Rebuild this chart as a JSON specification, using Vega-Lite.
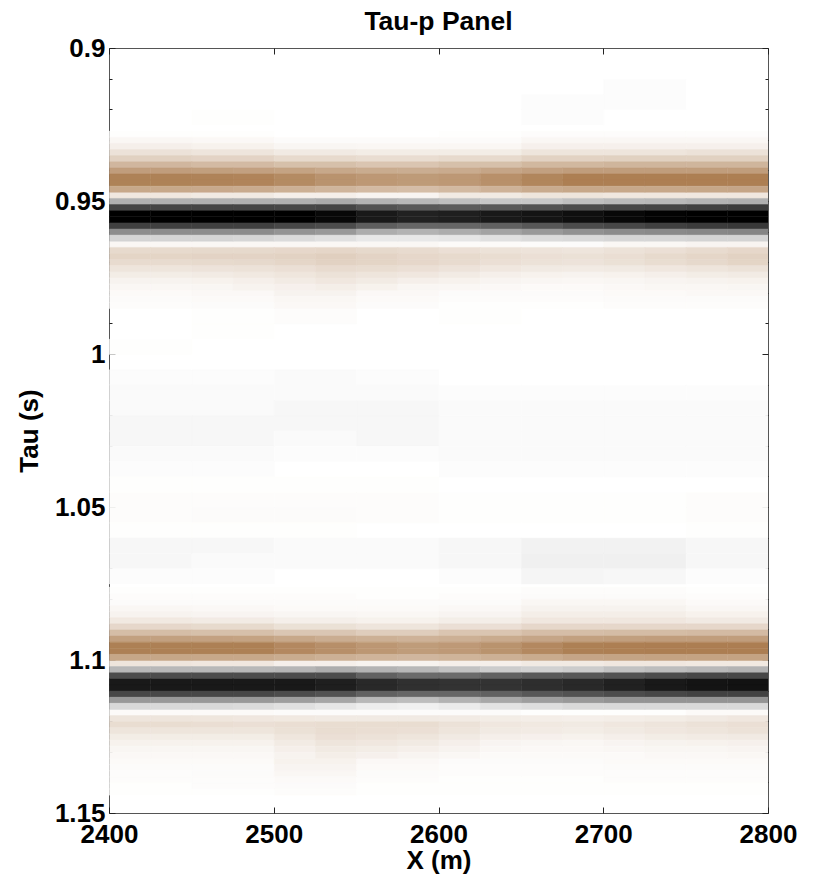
{"$schema":"https://vega.github.io/schema/vega-lite/v6.json","width":659,"height":765,"autosize":"none","padding":{"left":109,"top":48,"right":46,"bottom":65},"background":"white",
"config":{"view":{"stroke":"#555555","strokeWidth":1},"font":"Liberation Sans","axis":{"grid":false,"domain":false,"labelFont":"Liberation Sans","titleFont":"Liberation Sans","labelFontWeight":"bold","titleFontWeight":"bold","labelFontSize":26,"titleFontSize":26,"labelColor":"#000","titleColor":"#000","tickColor":"#222","zindex":1}},
"title":{"text":"Tau-p Panel","font":"Liberation Sans","fontWeight":"bold","fontSize":26.5,"color":"#000","anchor":"middle","offset":0},
"datasets":{
"faint":[
{"x":2725,"t":0.9125,"v":-1},{"x":2675,"t":0.9175,"v":-1},{"x":2725,"t":0.9175,"v":-1},{"x":2675,"t":0.9225,"v":-1},{"x":2475,"t":0.9225,"v":1},
{"x":2475,"t":0.9875,"v":1},{"x":2525,"t":0.9875,"v":2},{"x":2625,"t":0.9875,"v":1},{"x":2475,"t":0.9925,"v":1},{"x":2425,"t":0.9975,"v":1},
{"x":2425,"t":1.0075,"v":-1},{"x":2475,"t":1.0075,"v":-1},{"x":2525,"t":1.0075,"v":-2},{"x":2575,"t":1.0075,"v":-1},
{"x":2425,"t":1.0125,"v":-2},{"x":2475,"t":1.0125,"v":-2},{"x":2525,"t":1.0125,"v":-2},{"x":2575,"t":1.0125,"v":-2},{"x":2625,"t":1.0125,"v":-1},{"x":2675,"t":1.0125,"v":-1},{"x":2725,"t":1.0125,"v":-1},{"x":2775,"t":1.0125,"v":-1},
{"x":2425,"t":1.0175,"v":-2},{"x":2475,"t":1.0175,"v":-2},{"x":2525,"t":1.0175,"v":-3},{"x":2575,"t":1.0175,"v":-3},{"x":2625,"t":1.0175,"v":-2},{"x":2675,"t":1.0175,"v":-2},{"x":2725,"t":1.0175,"v":-2},{"x":2775,"t":1.0175,"v":-2},
{"x":2425,"t":1.0225,"v":-3},{"x":2475,"t":1.0225,"v":-3},{"x":2525,"t":1.0225,"v":-3},{"x":2575,"t":1.0225,"v":-3},{"x":2625,"t":1.0225,"v":-2},{"x":2675,"t":1.0225,"v":-2},{"x":2725,"t":1.0225,"v":-2},{"x":2775,"t":1.0225,"v":-2},
{"x":2425,"t":1.0275,"v":-3},{"x":2475,"t":1.0275,"v":-3},{"x":2525,"t":1.0275,"v":-2},{"x":2575,"t":1.0275,"v":-3},{"x":2625,"t":1.0275,"v":-2},{"x":2675,"t":1.0275,"v":-2},{"x":2725,"t":1.0275,"v":-2},{"x":2775,"t":1.0275,"v":-2},
{"x":2425,"t":1.0325,"v":-2},{"x":2475,"t":1.0325,"v":-2},{"x":2525,"t":1.0325,"v":-1},{"x":2575,"t":1.0325,"v":-1},{"x":2625,"t":1.0325,"v":-2},{"x":2675,"t":1.0325,"v":-2},{"x":2725,"t":1.0325,"v":-2},{"x":2775,"t":1.0325,"v":-2},
{"x":2425,"t":1.0375,"v":-1},{"x":2475,"t":1.0375,"v":-1},{"x":2625,"t":1.0375,"v":-1},{"x":2675,"t":1.0375,"v":-1},{"x":2725,"t":1.0375,"v":-1},{"x":2775,"t":1.0375,"v":-1},
{"x":2425,"t":1.0425,"v":1},{"x":2475,"t":1.0425,"v":1},{"x":2525,"t":1.0425,"v":1},{"x":2575,"t":1.0425,"v":1},
{"x":2425,"t":1.0475,"v":2},{"x":2475,"t":1.0475,"v":2},{"x":2525,"t":1.0475,"v":2},{"x":2575,"t":1.0475,"v":2},{"x":2625,"t":1.0475,"v":1},{"x":2675,"t":1.0475,"v":1},{"x":2725,"t":1.0475,"v":1},{"x":2775,"t":1.0475,"v":2},
{"x":2425,"t":1.0525,"v":2},{"x":2475,"t":1.0525,"v":3},{"x":2525,"t":1.0525,"v":3},{"x":2575,"t":1.0525,"v":2},{"x":2625,"t":1.0525,"v":1},{"x":2675,"t":1.0525,"v":1},{"x":2725,"t":1.0525,"v":1},{"x":2775,"t":1.0525,"v":2},
{"x":2425,"t":1.0575,"v":1},{"x":2475,"t":1.0575,"v":1},{"x":2525,"t":1.0575,"v":1},{"x":2775,"t":1.0575,"v":1},
{"x":2425,"t":1.0625,"v":-3},{"x":2475,"t":1.0625,"v":-3},{"x":2525,"t":1.0625,"v":-2},{"x":2575,"t":1.0625,"v":-2},{"x":2625,"t":1.0625,"v":-3},{"x":2675,"t":1.0625,"v":-5},{"x":2725,"t":1.0625,"v":-5},{"x":2775,"t":1.0625,"v":-3},
{"x":2425,"t":1.0675,"v":-3},{"x":2475,"t":1.0675,"v":-2},{"x":2525,"t":1.0675,"v":-2},{"x":2575,"t":1.0675,"v":-2},{"x":2625,"t":1.0675,"v":-3},{"x":2675,"t":1.0675,"v":-6},{"x":2725,"t":1.0675,"v":-6},{"x":2775,"t":1.0675,"v":-3},
{"x":2425,"t":1.0725,"v":-1},{"x":2475,"t":1.0725,"v":-1},{"x":2625,"t":1.0725,"v":-1},{"x":2675,"t":1.0725,"v":-4},{"x":2725,"t":1.0725,"v":-3},{"x":2775,"t":1.0725,"v":-1}
],
"b1c":[
{"x":2425,"t":0.928,"v":1},{"x":2475,"t":0.928,"v":1},{"x":2625,"t":0.928,"v":1},{"x":2675,"t":0.928,"v":2},{"x":2725,"t":0.928,"v":2},{"x":2775,"t":0.928,"v":2},
{"x":2425,"t":0.93,"v":6},{"x":2475,"t":0.93,"v":5},{"x":2525,"t":0.93,"v":3},{"x":2575,"t":0.93,"v":3},{"x":2625,"t":0.93,"v":3},{"x":2675,"t":0.93,"v":6},{"x":2725,"t":0.93,"v":6},{"x":2775,"t":0.93,"v":6},
{"x":2425,"t":0.932,"v":12},{"x":2475,"t":0.932,"v":10},{"x":2525,"t":0.932,"v":7},{"x":2575,"t":0.932,"v":6},{"x":2625,"t":0.932,"v":6},{"x":2675,"t":0.932,"v":11},{"x":2725,"t":0.932,"v":11},{"x":2775,"t":0.932,"v":11},
{"x":2425,"t":0.934,"v":22},{"x":2475,"t":0.934,"v":20},{"x":2525,"t":0.934,"v":16},{"x":2575,"t":0.934,"v":14},{"x":2625,"t":0.934,"v":14},{"x":2675,"t":0.934,"v":20},{"x":2725,"t":0.934,"v":20},{"x":2775,"t":0.934,"v":22},
{"x":2425,"t":0.936,"v":35},{"x":2475,"t":0.936,"v":33},{"x":2525,"t":0.936,"v":28},{"x":2575,"t":0.936,"v":26},{"x":2625,"t":0.936,"v":28},{"x":2675,"t":0.936,"v":34},{"x":2725,"t":0.936,"v":35},{"x":2775,"t":0.936,"v":35},
{"x":2425,"t":0.938,"v":55},{"x":2475,"t":0.938,"v":52},{"x":2525,"t":0.938,"v":48},{"x":2575,"t":0.938,"v":44},{"x":2625,"t":0.938,"v":48},{"x":2675,"t":0.938,"v":54},{"x":2725,"t":0.938,"v":56},{"x":2775,"t":0.938,"v":56},
{"x":2425,"t":0.948,"v":18},{"x":2475,"t":0.948,"v":16},{"x":2525,"t":0.948,"v":12},{"x":2575,"t":0.948,"v":8},{"x":2625,"t":0.948,"v":16},{"x":2675,"t":0.948,"v":20},{"x":2725,"t":0.948,"v":18},{"x":2775,"t":0.948,"v":18},
{"x":2425,"t":0.964,"v":6},{"x":2475,"t":0.964,"v":6},{"x":2525,"t":0.964,"v":6},{"x":2575,"t":0.964,"v":6},{"x":2625,"t":0.964,"v":4},{"x":2675,"t":0.964,"v":3},{"x":2725,"t":0.964,"v":6},{"x":2775,"t":0.964,"v":8},
{"x":2425,"t":0.98,"v":4},{"x":2475,"t":0.98,"v":5},{"x":2525,"t":0.98,"v":9},{"x":2575,"t":0.98,"v":5},{"x":2625,"t":0.98,"v":3},{"x":2675,"t":0.98,"v":3},{"x":2725,"t":0.98,"v":4},{"x":2775,"t":0.98,"v":5},
{"x":2425,"t":0.982,"v":3},{"x":2475,"t":0.982,"v":4},{"x":2525,"t":0.982,"v":6},{"x":2575,"t":0.982,"v":4},{"x":2625,"t":0.982,"v":2},{"x":2675,"t":0.982,"v":2},{"x":2725,"t":0.982,"v":3},{"x":2775,"t":0.982,"v":3},
{"x":2425,"t":0.984,"v":2},{"x":2475,"t":0.984,"v":3},{"x":2525,"t":0.984,"v":5},{"x":2575,"t":0.984,"v":3},{"x":2625,"t":0.984,"v":1},{"x":2675,"t":0.984,"v":1},{"x":2725,"t":0.984,"v":2},{"x":2775,"t":0.984,"v":2}
],
"b1f":[
{"x":2412,"t":0.94,"v":74},{"x":2437,"t":0.94,"v":74},{"x":2462,"t":0.94,"v":73},{"x":2487,"t":0.94,"v":72},{"x":2512,"t":0.94,"v":70},{"x":2537,"t":0.94,"v":66},{"x":2562,"t":0.94,"v":63},{"x":2587,"t":0.94,"v":62},{"x":2612,"t":0.94,"v":64},{"x":2637,"t":0.94,"v":68},{"x":2662,"t":0.94,"v":72},{"x":2687,"t":0.94,"v":74},{"x":2712,"t":0.94,"v":74},{"x":2737,"t":0.94,"v":74},{"x":2762,"t":0.94,"v":74},{"x":2787,"t":0.94,"v":74},
{"x":2412,"t":0.942,"v":95},{"x":2437,"t":0.942,"v":95},{"x":2462,"t":0.942,"v":94},{"x":2487,"t":0.942,"v":93},{"x":2512,"t":0.942,"v":88},{"x":2537,"t":0.942,"v":82},{"x":2562,"t":0.942,"v":78},{"x":2587,"t":0.942,"v":76},{"x":2612,"t":0.942,"v":78},{"x":2637,"t":0.942,"v":84},{"x":2662,"t":0.942,"v":92},{"x":2687,"t":0.942,"v":97},{"x":2712,"t":0.942,"v":97},{"x":2737,"t":0.942,"v":97},{"x":2762,"t":0.942,"v":97},{"x":2787,"t":0.942,"v":97},
{"x":2412,"t":0.944,"v":95},{"x":2437,"t":0.944,"v":95},{"x":2462,"t":0.944,"v":94},{"x":2487,"t":0.944,"v":93},{"x":2512,"t":0.944,"v":88},{"x":2537,"t":0.944,"v":82},{"x":2562,"t":0.944,"v":78},{"x":2587,"t":0.944,"v":76},{"x":2612,"t":0.944,"v":78},{"x":2637,"t":0.944,"v":84},{"x":2662,"t":0.944,"v":92},{"x":2687,"t":0.944,"v":97},{"x":2712,"t":0.944,"v":97},{"x":2737,"t":0.944,"v":97},{"x":2762,"t":0.944,"v":97},{"x":2787,"t":0.944,"v":97},
{"x":2412,"t":0.946,"v":66},{"x":2437,"t":0.946,"v":66},{"x":2462,"t":0.946,"v":65},{"x":2487,"t":0.946,"v":64},{"x":2512,"t":0.946,"v":60},{"x":2537,"t":0.946,"v":56},{"x":2562,"t":0.946,"v":52},{"x":2587,"t":0.946,"v":50},{"x":2612,"t":0.946,"v":53},{"x":2637,"t":0.946,"v":58},{"x":2662,"t":0.946,"v":64},{"x":2687,"t":0.946,"v":66},{"x":2712,"t":0.946,"v":66},{"x":2737,"t":0.946,"v":66},{"x":2762,"t":0.946,"v":67},{"x":2787,"t":0.946,"v":68},
{"x":2412,"t":0.95,"v":-31},{"x":2437,"t":0.95,"v":-31},{"x":2462,"t":0.95,"v":-31},{"x":2487,"t":0.95,"v":-31},{"x":2512,"t":0.95,"v":-31},{"x":2537,"t":0.95,"v":-33},{"x":2562,"t":0.95,"v":-30},{"x":2587,"t":0.95,"v":-28},{"x":2612,"t":0.95,"v":-25},{"x":2637,"t":0.95,"v":-22},{"x":2662,"t":0.95,"v":-22},{"x":2687,"t":0.95,"v":-25},{"x":2712,"t":0.95,"v":-27},{"x":2737,"t":0.95,"v":-28},{"x":2762,"t":0.95,"v":-30},{"x":2787,"t":0.95,"v":-31},
{"x":2412,"t":0.952,"v":-73},{"x":2437,"t":0.952,"v":-73},{"x":2462,"t":0.952,"v":-73},{"x":2487,"t":0.952,"v":-73},{"x":2512,"t":0.952,"v":-72},{"x":2537,"t":0.952,"v":-73},{"x":2562,"t":0.952,"v":-68},{"x":2587,"t":0.952,"v":-65},{"x":2612,"t":0.952,"v":-64},{"x":2637,"t":0.952,"v":-65},{"x":2662,"t":0.952,"v":-68},{"x":2687,"t":0.952,"v":-70},{"x":2712,"t":0.952,"v":-72},{"x":2737,"t":0.952,"v":-73},{"x":2762,"t":0.952,"v":-75},{"x":2787,"t":0.952,"v":-76},
{"x":2412,"t":0.954,"v":-100},{"x":2437,"t":0.954,"v":-100},{"x":2462,"t":0.954,"v":-100},{"x":2487,"t":0.954,"v":-100},{"x":2512,"t":0.954,"v":-100},{"x":2537,"t":0.954,"v":-97},{"x":2562,"t":0.954,"v":-90},{"x":2587,"t":0.954,"v":-87},{"x":2612,"t":0.954,"v":-88},{"x":2637,"t":0.954,"v":-90},{"x":2662,"t":0.954,"v":-92},{"x":2687,"t":0.954,"v":-94},{"x":2712,"t":0.954,"v":-97},{"x":2737,"t":0.954,"v":-99},{"x":2762,"t":0.954,"v":-100},{"x":2787,"t":0.954,"v":-100},
{"x":2412,"t":0.956,"v":-100},{"x":2437,"t":0.956,"v":-100},{"x":2462,"t":0.956,"v":-100},{"x":2487,"t":0.956,"v":-100},{"x":2512,"t":0.956,"v":-100},{"x":2537,"t":0.956,"v":-97},{"x":2562,"t":0.956,"v":-90},{"x":2587,"t":0.956,"v":-87},{"x":2612,"t":0.956,"v":-88},{"x":2637,"t":0.956,"v":-90},{"x":2662,"t":0.956,"v":-92},{"x":2687,"t":0.956,"v":-94},{"x":2712,"t":0.956,"v":-97},{"x":2737,"t":0.956,"v":-99},{"x":2762,"t":0.956,"v":-100},{"x":2787,"t":0.956,"v":-100},
{"x":2412,"t":0.958,"v":-75},{"x":2437,"t":0.958,"v":-75},{"x":2462,"t":0.958,"v":-75},{"x":2487,"t":0.958,"v":-75},{"x":2512,"t":0.958,"v":-72},{"x":2537,"t":0.958,"v":-70},{"x":2562,"t":0.958,"v":-63},{"x":2587,"t":0.958,"v":-60},{"x":2612,"t":0.958,"v":-60},{"x":2637,"t":0.958,"v":-62},{"x":2662,"t":0.958,"v":-66},{"x":2687,"t":0.958,"v":-70},{"x":2712,"t":0.958,"v":-72},{"x":2737,"t":0.958,"v":-75},{"x":2762,"t":0.958,"v":-77},{"x":2787,"t":0.958,"v":-78},
{"x":2412,"t":0.96,"v":-45},{"x":2437,"t":0.96,"v":-45},{"x":2462,"t":0.96,"v":-45},{"x":2487,"t":0.96,"v":-45},{"x":2512,"t":0.96,"v":-42},{"x":2537,"t":0.96,"v":-40},{"x":2562,"t":0.96,"v":-32},{"x":2587,"t":0.96,"v":-30},{"x":2612,"t":0.96,"v":-32},{"x":2637,"t":0.96,"v":-36},{"x":2662,"t":0.96,"v":-40},{"x":2687,"t":0.96,"v":-43},{"x":2712,"t":0.96,"v":-45},{"x":2737,"t":0.96,"v":-46},{"x":2762,"t":0.96,"v":-47},{"x":2787,"t":0.96,"v":-48},
{"x":2412,"t":0.962,"v":-17},{"x":2437,"t":0.962,"v":-17},{"x":2462,"t":0.962,"v":-17},{"x":2487,"t":0.962,"v":-16},{"x":2512,"t":0.962,"v":-14},{"x":2537,"t":0.962,"v":-12},{"x":2562,"t":0.962,"v":-9},{"x":2587,"t":0.962,"v":-9},{"x":2612,"t":0.962,"v":-10},{"x":2637,"t":0.962,"v":-12},{"x":2662,"t":0.962,"v":-14},{"x":2687,"t":0.962,"v":-15},{"x":2712,"t":0.962,"v":-16},{"x":2737,"t":0.962,"v":-16},{"x":2762,"t":0.962,"v":-17},{"x":2787,"t":0.962,"v":-17},
{"x":2412,"t":0.966,"v":28},{"x":2437,"t":0.966,"v":28},{"x":2462,"t":0.966,"v":29},{"x":2487,"t":0.966,"v":29},{"x":2512,"t":0.966,"v":30},{"x":2537,"t":0.966,"v":31},{"x":2562,"t":0.966,"v":29},{"x":2587,"t":0.966,"v":27},{"x":2612,"t":0.966,"v":24},{"x":2637,"t":0.966,"v":22},{"x":2662,"t":0.966,"v":21},{"x":2687,"t":0.966,"v":20},{"x":2712,"t":0.966,"v":22},{"x":2737,"t":0.966,"v":24},{"x":2762,"t":0.966,"v":27},{"x":2787,"t":0.966,"v":30},
{"x":2412,"t":0.968,"v":32},{"x":2437,"t":0.968,"v":32},{"x":2462,"t":0.968,"v":33},{"x":2487,"t":0.968,"v":33},{"x":2512,"t":0.968,"v":34},{"x":2537,"t":0.968,"v":36},{"x":2562,"t":0.968,"v":33},{"x":2587,"t":0.968,"v":30},{"x":2612,"t":0.968,"v":28},{"x":2637,"t":0.968,"v":26},{"x":2662,"t":0.968,"v":24},{"x":2687,"t":0.968,"v":23},{"x":2712,"t":0.968,"v":25},{"x":2737,"t":0.968,"v":28},{"x":2762,"t":0.968,"v":31},{"x":2787,"t":0.968,"v":34},
{"x":2412,"t":0.97,"v":27},{"x":2437,"t":0.97,"v":27},{"x":2462,"t":0.97,"v":28},{"x":2487,"t":0.97,"v":29},{"x":2512,"t":0.97,"v":31},{"x":2537,"t":0.97,"v":34},{"x":2562,"t":0.97,"v":32},{"x":2587,"t":0.97,"v":30},{"x":2612,"t":0.97,"v":27},{"x":2637,"t":0.97,"v":24},{"x":2662,"t":0.97,"v":22},{"x":2687,"t":0.97,"v":21},{"x":2712,"t":0.97,"v":23},{"x":2737,"t":0.97,"v":26},{"x":2762,"t":0.97,"v":29},{"x":2787,"t":0.97,"v":32},
{"x":2412,"t":0.972,"v":20},{"x":2437,"t":0.972,"v":20},{"x":2462,"t":0.972,"v":21},{"x":2487,"t":0.972,"v":22},{"x":2512,"t":0.972,"v":24},{"x":2537,"t":0.972,"v":27},{"x":2562,"t":0.972,"v":26},{"x":2587,"t":0.972,"v":24},{"x":2612,"t":0.972,"v":21},{"x":2637,"t":0.972,"v":18},{"x":2662,"t":0.972,"v":16},{"x":2687,"t":0.972,"v":15},{"x":2712,"t":0.972,"v":16},{"x":2737,"t":0.972,"v":18},{"x":2762,"t":0.972,"v":20},{"x":2787,"t":0.972,"v":22},
{"x":2412,"t":0.974,"v":14},{"x":2437,"t":0.974,"v":14},{"x":2462,"t":0.974,"v":15},{"x":2487,"t":0.974,"v":17},{"x":2512,"t":0.974,"v":19},{"x":2537,"t":0.974,"v":22},{"x":2562,"t":0.974,"v":20},{"x":2587,"t":0.974,"v":18},{"x":2612,"t":0.974,"v":15},{"x":2637,"t":0.974,"v":12},{"x":2662,"t":0.974,"v":10},{"x":2687,"t":0.974,"v":9},{"x":2712,"t":0.974,"v":10},{"x":2737,"t":0.974,"v":12},{"x":2762,"t":0.974,"v":14},{"x":2787,"t":0.974,"v":15},
{"x":2412,"t":0.976,"v":9},{"x":2437,"t":0.976,"v":9},{"x":2462,"t":0.976,"v":10},{"x":2487,"t":0.976,"v":12},{"x":2512,"t":0.976,"v":15},{"x":2537,"t":0.976,"v":18},{"x":2562,"t":0.976,"v":15},{"x":2587,"t":0.976,"v":12},{"x":2612,"t":0.976,"v":10},{"x":2637,"t":0.976,"v":8},{"x":2662,"t":0.976,"v":7},{"x":2687,"t":0.976,"v":6},{"x":2712,"t":0.976,"v":7},{"x":2737,"t":0.976,"v":8},{"x":2762,"t":0.976,"v":9},{"x":2787,"t":0.976,"v":10},
{"x":2412,"t":0.978,"v":6},{"x":2437,"t":0.978,"v":6},{"x":2462,"t":0.978,"v":7},{"x":2487,"t":0.978,"v":9},{"x":2512,"t":0.978,"v":11},{"x":2537,"t":0.978,"v":13},{"x":2562,"t":0.978,"v":10},{"x":2587,"t":0.978,"v":7},{"x":2612,"t":0.978,"v":6},{"x":2637,"t":0.978,"v":5},{"x":2662,"t":0.978,"v":4},{"x":2687,"t":0.978,"v":4},{"x":2712,"t":0.978,"v":5},{"x":2737,"t":0.978,"v":6},{"x":2762,"t":0.978,"v":6},{"x":2787,"t":0.978,"v":7}
],
"b2c":[
{"x":2425,"t":1.077,"v":1},{"x":2475,"t":1.077,"v":1},{"x":2525,"t":1.077,"v":1},{"x":2575,"t":1.077,"v":1},{"x":2625,"t":1.077,"v":1},{"x":2675,"t":1.077,"v":2},{"x":2725,"t":1.077,"v":2},{"x":2775,"t":1.077,"v":1},
{"x":2425,"t":1.079,"v":2},{"x":2475,"t":1.079,"v":2},{"x":2525,"t":1.079,"v":2},{"x":2575,"t":1.079,"v":1},{"x":2625,"t":1.079,"v":2},{"x":2675,"t":1.079,"v":3},{"x":2725,"t":1.079,"v":3},{"x":2775,"t":1.079,"v":2},
{"x":2425,"t":1.081,"v":3},{"x":2475,"t":1.081,"v":3},{"x":2525,"t":1.081,"v":3},{"x":2575,"t":1.081,"v":3},{"x":2625,"t":1.081,"v":3},{"x":2675,"t":1.081,"v":6},{"x":2725,"t":1.081,"v":6},{"x":2775,"t":1.081,"v":4},
{"x":2425,"t":1.083,"v":6},{"x":2475,"t":1.083,"v":5},{"x":2525,"t":1.083,"v":4},{"x":2575,"t":1.083,"v":4},{"x":2625,"t":1.083,"v":5},{"x":2675,"t":1.083,"v":9},{"x":2725,"t":1.083,"v":9},{"x":2775,"t":1.083,"v":6},
{"x":2425,"t":1.085,"v":9},{"x":2475,"t":1.085,"v":8},{"x":2525,"t":1.085,"v":7},{"x":2575,"t":1.085,"v":6},{"x":2625,"t":1.085,"v":8},{"x":2675,"t":1.085,"v":13},{"x":2725,"t":1.085,"v":13},{"x":2775,"t":1.085,"v":10},
{"x":2425,"t":1.087,"v":17},{"x":2475,"t":1.087,"v":15},{"x":2525,"t":1.087,"v":12},{"x":2575,"t":1.087,"v":10},{"x":2625,"t":1.087,"v":13},{"x":2675,"t":1.087,"v":18},{"x":2725,"t":1.087,"v":18},{"x":2775,"t":1.087,"v":16},
{"x":2425,"t":1.089,"v":30},{"x":2475,"t":1.089,"v":28},{"x":2525,"t":1.089,"v":23},{"x":2575,"t":1.089,"v":20},{"x":2625,"t":1.089,"v":24},{"x":2675,"t":1.089,"v":30},{"x":2725,"t":1.089,"v":30},{"x":2775,"t":1.089,"v":30},
{"x":2425,"t":1.091,"v":50},{"x":2475,"t":1.091,"v":48},{"x":2525,"t":1.091,"v":43},{"x":2575,"t":1.091,"v":38},{"x":2625,"t":1.091,"v":44},{"x":2675,"t":1.091,"v":50},{"x":2725,"t":1.091,"v":51},{"x":2775,"t":1.091,"v":52},
{"x":2425,"t":1.101,"v":20},{"x":2475,"t":1.101,"v":18},{"x":2525,"t":1.101,"v":12},{"x":2575,"t":1.101,"v":9},{"x":2625,"t":1.101,"v":12},{"x":2675,"t":1.101,"v":16},{"x":2725,"t":1.101,"v":18},{"x":2775,"t":1.101,"v":17},
{"x":2425,"t":1.117,"v":4},{"x":2475,"t":1.117,"v":4},{"x":2525,"t":1.117,"v":3},{"x":2575,"t":1.117,"v":3},{"x":2625,"t":1.117,"v":3},{"x":2675,"t":1.117,"v":1},{"x":2725,"t":1.117,"v":1},{"x":2775,"t":1.117,"v":4},
{"x":2425,"t":1.133,"v":4},{"x":2475,"t":1.133,"v":4},{"x":2525,"t":1.133,"v":10},{"x":2575,"t":1.133,"v":5},{"x":2625,"t":1.133,"v":3},{"x":2675,"t":1.133,"v":3},{"x":2725,"t":1.133,"v":4},{"x":2775,"t":1.133,"v":4},
{"x":2425,"t":1.135,"v":3},{"x":2475,"t":1.135,"v":3},{"x":2525,"t":1.135,"v":8},{"x":2575,"t":1.135,"v":4},{"x":2625,"t":1.135,"v":2},{"x":2675,"t":1.135,"v":2},{"x":2725,"t":1.135,"v":3},{"x":2775,"t":1.135,"v":3},
{"x":2425,"t":1.137,"v":2},{"x":2475,"t":1.137,"v":3},{"x":2525,"t":1.137,"v":6},{"x":2575,"t":1.137,"v":3},{"x":2625,"t":1.137,"v":2},{"x":2675,"t":1.137,"v":2},{"x":2725,"t":1.137,"v":2},{"x":2775,"t":1.137,"v":2},
{"x":2425,"t":1.139,"v":2},{"x":2475,"t":1.139,"v":2},{"x":2525,"t":1.139,"v":4},{"x":2575,"t":1.139,"v":2},{"x":2625,"t":1.139,"v":1},{"x":2675,"t":1.139,"v":1},{"x":2725,"t":1.139,"v":2},{"x":2775,"t":1.139,"v":2},
{"x":2425,"t":1.141,"v":1},{"x":2475,"t":1.141,"v":2},{"x":2525,"t":1.141,"v":3},{"x":2575,"t":1.141,"v":1},{"x":2625,"t":1.141,"v":1},{"x":2675,"t":1.141,"v":1},{"x":2725,"t":1.141,"v":1},{"x":2775,"t":1.141,"v":1},
{"x":2425,"t":1.143,"v":1},{"x":2475,"t":1.143,"v":1},{"x":2525,"t":1.143,"v":2},{"x":2575,"t":1.143,"v":1},{"x":2625,"t":1.143,"v":1},{"x":2675,"t":1.143,"v":1},{"x":2725,"t":1.143,"v":1},{"x":2775,"t":1.143,"v":1}
],
"b2f":[
{"x":2412,"t":1.093,"v":72},{"x":2437,"t":1.093,"v":72},{"x":2462,"t":1.093,"v":71},{"x":2487,"t":1.093,"v":70},{"x":2512,"t":1.093,"v":66},{"x":2537,"t":1.093,"v":62},{"x":2562,"t":1.093,"v":60},{"x":2587,"t":1.093,"v":58},{"x":2612,"t":1.093,"v":60},{"x":2637,"t":1.093,"v":64},{"x":2662,"t":1.093,"v":68},{"x":2687,"t":1.093,"v":72},{"x":2712,"t":1.093,"v":73},{"x":2737,"t":1.093,"v":74},{"x":2762,"t":1.093,"v":74},{"x":2787,"t":1.093,"v":74},
{"x":2412,"t":1.095,"v":96},{"x":2437,"t":1.095,"v":96},{"x":2462,"t":1.095,"v":96},{"x":2487,"t":1.095,"v":96},{"x":2512,"t":1.095,"v":90},{"x":2537,"t":1.095,"v":85},{"x":2562,"t":1.095,"v":79},{"x":2587,"t":1.095,"v":75},{"x":2612,"t":1.095,"v":77},{"x":2637,"t":1.095,"v":82},{"x":2662,"t":1.095,"v":90},{"x":2687,"t":1.095,"v":96},{"x":2712,"t":1.095,"v":97},{"x":2737,"t":1.095,"v":98},{"x":2762,"t":1.095,"v":98},{"x":2787,"t":1.095,"v":98},
{"x":2412,"t":1.097,"v":96},{"x":2437,"t":1.097,"v":96},{"x":2462,"t":1.097,"v":96},{"x":2487,"t":1.097,"v":96},{"x":2512,"t":1.097,"v":90},{"x":2537,"t":1.097,"v":85},{"x":2562,"t":1.097,"v":79},{"x":2587,"t":1.097,"v":75},{"x":2612,"t":1.097,"v":77},{"x":2637,"t":1.097,"v":82},{"x":2662,"t":1.097,"v":90},{"x":2687,"t":1.097,"v":96},{"x":2712,"t":1.097,"v":97},{"x":2737,"t":1.097,"v":98},{"x":2762,"t":1.097,"v":98},{"x":2787,"t":1.097,"v":98},
{"x":2412,"t":1.099,"v":67},{"x":2437,"t":1.099,"v":67},{"x":2462,"t":1.099,"v":66},{"x":2487,"t":1.099,"v":66},{"x":2512,"t":1.099,"v":63},{"x":2537,"t":1.099,"v":60},{"x":2562,"t":1.099,"v":57},{"x":2587,"t":1.099,"v":55},{"x":2612,"t":1.099,"v":57},{"x":2637,"t":1.099,"v":60},{"x":2662,"t":1.099,"v":64},{"x":2687,"t":1.099,"v":68},{"x":2712,"t":1.099,"v":69},{"x":2737,"t":1.099,"v":70},{"x":2762,"t":1.099,"v":70},{"x":2787,"t":1.099,"v":70},
{"x":2412,"t":1.103,"v":-28},{"x":2437,"t":1.103,"v":-28},{"x":2462,"t":1.103,"v":-28},{"x":2487,"t":1.103,"v":-28},{"x":2512,"t":1.103,"v":-29},{"x":2537,"t":1.103,"v":-32},{"x":2562,"t":1.103,"v":-30},{"x":2587,"t":1.103,"v":-28},{"x":2612,"t":1.103,"v":-24},{"x":2637,"t":1.103,"v":-20},{"x":2662,"t":1.103,"v":-18},{"x":2687,"t":1.103,"v":-20},{"x":2712,"t":1.103,"v":-24},{"x":2737,"t":1.103,"v":-26},{"x":2762,"t":1.103,"v":-28},{"x":2787,"t":1.103,"v":-30},
{"x":2412,"t":1.105,"v":-70},{"x":2437,"t":1.105,"v":-70},{"x":2462,"t":1.105,"v":-70},{"x":2487,"t":1.105,"v":-70},{"x":2512,"t":1.105,"v":-70},{"x":2537,"t":1.105,"v":-70},{"x":2562,"t":1.105,"v":-62},{"x":2587,"t":1.105,"v":-58},{"x":2612,"t":1.105,"v":-58},{"x":2637,"t":1.105,"v":-62},{"x":2662,"t":1.105,"v":-65},{"x":2687,"t":1.105,"v":-66},{"x":2712,"t":1.105,"v":-68},{"x":2737,"t":1.105,"v":-70},{"x":2762,"t":1.105,"v":-72},{"x":2787,"t":1.105,"v":-72},
{"x":2412,"t":1.107,"v":-90},{"x":2437,"t":1.107,"v":-90},{"x":2462,"t":1.107,"v":-90},{"x":2487,"t":1.107,"v":-90},{"x":2512,"t":1.107,"v":-90},{"x":2537,"t":1.107,"v":-88},{"x":2562,"t":1.107,"v":-84},{"x":2587,"t":1.107,"v":-81},{"x":2612,"t":1.107,"v":-80},{"x":2637,"t":1.107,"v":-80},{"x":2662,"t":1.107,"v":-82},{"x":2687,"t":1.107,"v":-84},{"x":2712,"t":1.107,"v":-87},{"x":2737,"t":1.107,"v":-90},{"x":2762,"t":1.107,"v":-92},{"x":2787,"t":1.107,"v":-93},
{"x":2412,"t":1.109,"v":-90},{"x":2437,"t":1.109,"v":-90},{"x":2462,"t":1.109,"v":-90},{"x":2487,"t":1.109,"v":-90},{"x":2512,"t":1.109,"v":-90},{"x":2537,"t":1.109,"v":-88},{"x":2562,"t":1.109,"v":-84},{"x":2587,"t":1.109,"v":-81},{"x":2612,"t":1.109,"v":-80},{"x":2637,"t":1.109,"v":-80},{"x":2662,"t":1.109,"v":-82},{"x":2687,"t":1.109,"v":-84},{"x":2712,"t":1.109,"v":-87},{"x":2737,"t":1.109,"v":-90},{"x":2762,"t":1.109,"v":-92},{"x":2787,"t":1.109,"v":-93},
{"x":2412,"t":1.111,"v":-72},{"x":2437,"t":1.111,"v":-72},{"x":2462,"t":1.111,"v":-72},{"x":2487,"t":1.111,"v":-72},{"x":2512,"t":1.111,"v":-70},{"x":2537,"t":1.111,"v":-68},{"x":2562,"t":1.111,"v":-62},{"x":2587,"t":1.111,"v":-60},{"x":2612,"t":1.111,"v":-60},{"x":2637,"t":1.111,"v":-62},{"x":2662,"t":1.111,"v":-66},{"x":2687,"t":1.111,"v":-68},{"x":2712,"t":1.111,"v":-70},{"x":2737,"t":1.111,"v":-72},{"x":2762,"t":1.111,"v":-74},{"x":2787,"t":1.111,"v":-74},
{"x":2412,"t":1.113,"v":-40},{"x":2437,"t":1.113,"v":-40},{"x":2462,"t":1.113,"v":-40},{"x":2487,"t":1.113,"v":-40},{"x":2512,"t":1.113,"v":-38},{"x":2537,"t":1.113,"v":-35},{"x":2562,"t":1.113,"v":-28},{"x":2587,"t":1.113,"v":-26},{"x":2612,"t":1.113,"v":-30},{"x":2637,"t":1.113,"v":-34},{"x":2662,"t":1.113,"v":-38},{"x":2687,"t":1.113,"v":-40},{"x":2712,"t":1.113,"v":-42},{"x":2737,"t":1.113,"v":-42},{"x":2762,"t":1.113,"v":-42},{"x":2787,"t":1.113,"v":-42},
{"x":2412,"t":1.115,"v":-15},{"x":2437,"t":1.115,"v":-15},{"x":2462,"t":1.115,"v":-15},{"x":2487,"t":1.115,"v":-14},{"x":2512,"t":1.115,"v":-12},{"x":2537,"t":1.115,"v":-10},{"x":2562,"t":1.115,"v":-7},{"x":2587,"t":1.115,"v":-6},{"x":2612,"t":1.115,"v":-8},{"x":2637,"t":1.115,"v":-11},{"x":2662,"t":1.115,"v":-13},{"x":2687,"t":1.115,"v":-15},{"x":2712,"t":1.115,"v":-15},{"x":2737,"t":1.115,"v":-15},{"x":2762,"t":1.115,"v":-15},{"x":2787,"t":1.115,"v":-15},
{"x":2412,"t":1.119,"v":20},{"x":2437,"t":1.119,"v":20},{"x":2462,"t":1.119,"v":19},{"x":2487,"t":1.119,"v":18},{"x":2512,"t":1.119,"v":17},{"x":2537,"t":1.119,"v":16},{"x":2562,"t":1.119,"v":16},{"x":2587,"t":1.119,"v":16},{"x":2612,"t":1.119,"v":15},{"x":2637,"t":1.119,"v":14},{"x":2662,"t":1.119,"v":13},{"x":2687,"t":1.119,"v":12},{"x":2712,"t":1.119,"v":13},{"x":2737,"t":1.119,"v":14},{"x":2762,"t":1.119,"v":16},{"x":2787,"t":1.119,"v":18},
{"x":2412,"t":1.121,"v":26},{"x":2437,"t":1.121,"v":26},{"x":2462,"t":1.121,"v":25},{"x":2487,"t":1.121,"v":24},{"x":2512,"t":1.121,"v":25},{"x":2537,"t":1.121,"v":26},{"x":2562,"t":1.121,"v":26},{"x":2587,"t":1.121,"v":26},{"x":2612,"t":1.121,"v":22},{"x":2637,"t":1.121,"v":18},{"x":2662,"t":1.121,"v":17},{"x":2687,"t":1.121,"v":16},{"x":2712,"t":1.121,"v":18},{"x":2737,"t":1.121,"v":20},{"x":2762,"t":1.121,"v":22},{"x":2787,"t":1.121,"v":24},
{"x":2412,"t":1.123,"v":20},{"x":2437,"t":1.123,"v":20},{"x":2462,"t":1.123,"v":20},{"x":2487,"t":1.123,"v":20},{"x":2512,"t":1.123,"v":23},{"x":2537,"t":1.123,"v":26},{"x":2562,"t":1.123,"v":25},{"x":2587,"t":1.123,"v":24},{"x":2612,"t":1.123,"v":20},{"x":2637,"t":1.123,"v":16},{"x":2662,"t":1.123,"v":15},{"x":2687,"t":1.123,"v":14},{"x":2712,"t":1.123,"v":16},{"x":2737,"t":1.123,"v":18},{"x":2762,"t":1.123,"v":20},{"x":2787,"t":1.123,"v":22},
{"x":2412,"t":1.125,"v":14},{"x":2437,"t":1.125,"v":14},{"x":2462,"t":1.125,"v":14},{"x":2487,"t":1.125,"v":14},{"x":2512,"t":1.125,"v":19},{"x":2537,"t":1.125,"v":24},{"x":2562,"t":1.125,"v":22},{"x":2587,"t":1.125,"v":20},{"x":2612,"t":1.125,"v":16},{"x":2637,"t":1.125,"v":12},{"x":2662,"t":1.125,"v":11},{"x":2687,"t":1.125,"v":10},{"x":2712,"t":1.125,"v":12},{"x":2737,"t":1.125,"v":14},{"x":2762,"t":1.125,"v":15},{"x":2787,"t":1.125,"v":16},
{"x":2412,"t":1.127,"v":10},{"x":2437,"t":1.127,"v":10},{"x":2462,"t":1.127,"v":10},{"x":2487,"t":1.127,"v":10},{"x":2512,"t":1.127,"v":15},{"x":2537,"t":1.127,"v":20},{"x":2562,"t":1.127,"v":18},{"x":2587,"t":1.127,"v":16},{"x":2612,"t":1.127,"v":12},{"x":2637,"t":1.127,"v":8},{"x":2662,"t":1.127,"v":7},{"x":2687,"t":1.127,"v":6},{"x":2712,"t":1.127,"v":8},{"x":2737,"t":1.127,"v":9},{"x":2762,"t":1.127,"v":10},{"x":2787,"t":1.127,"v":11},
{"x":2412,"t":1.129,"v":7},{"x":2437,"t":1.129,"v":7},{"x":2462,"t":1.129,"v":7},{"x":2487,"t":1.129,"v":7},{"x":2512,"t":1.129,"v":12},{"x":2537,"t":1.129,"v":16},{"x":2562,"t":1.129,"v":14},{"x":2587,"t":1.129,"v":12},{"x":2612,"t":1.129,"v":9},{"x":2637,"t":1.129,"v":6},{"x":2662,"t":1.129,"v":5},{"x":2687,"t":1.129,"v":5},{"x":2712,"t":1.129,"v":6},{"x":2737,"t":1.129,"v":7},{"x":2762,"t":1.129,"v":7},{"x":2787,"t":1.129,"v":8},
{"x":2412,"t":1.131,"v":5},{"x":2437,"t":1.131,"v":5},{"x":2462,"t":1.131,"v":5},{"x":2487,"t":1.131,"v":5},{"x":2512,"t":1.131,"v":9},{"x":2537,"t":1.131,"v":13},{"x":2562,"t":1.131,"v":11},{"x":2587,"t":1.131,"v":8},{"x":2612,"t":1.131,"v":6},{"x":2637,"t":1.131,"v":4},{"x":2662,"t":1.131,"v":4},{"x":2687,"t":1.131,"v":4},{"x":2712,"t":1.131,"v":4},{"x":2737,"t":1.131,"v":5},{"x":2762,"t":1.131,"v":5},{"x":2787,"t":1.131,"v":6}
]
},
"encoding":{
"color":{"field":"v","type":"quantitative","legend":null,"scale":{"domain":[-100,0,100],"range":["#000000","#ffffff","#aa7b4e"],"interpolate":"rgb","clamp":true}},
"stroke":{"field":"v","type":"quantitative","legend":null,"scale":{"domain":[-100,0,100],"range":["#000000","#ffffff","#aa7b4e"],"interpolate":"rgb","clamp":true}}
},
"layer":[
{"data":{"name":"faint"},"mark":{"type":"rect","strokeWidth":0.5,"clip":true},"encoding":{
"x":{"field":"x","type":"quantitative","bin":{"step":50,"extent":[2400,2800],"nice":false},"scale":{"domain":[2400,2800],"nice":false,"zero":false},"axis":{"orient":"bottom","values":[2400,2500,2600,2700,2800],"format":"d","tickSize":-6,"labelPadding":14,"labelFlush":false,"title":"X (m)","titlePadding":0,"labelOverlap":false}},
"y":{"field":"t","type":"quantitative","bin":{"step":0.005,"extent":[0.9,1.15],"nice":false},"scale":{"domain":[0.9,1.15],"nice":false,"zero":false,"reverse":true},"axis":{"orient":"left","values":[0.9,0.95,1,1.05,1.1,1.15],"format":".3~f","tickSize":-6,"labelPadding":10,"labelFlush":false,"title":"Tau (s)","titlePadding":12,"labelOverlap":false}}}},
{"data":{"name":"b1c"},"mark":{"type":"rect","strokeWidth":0.5,"clip":true},"encoding":{
"x":{"field":"x","type":"quantitative","bin":{"step":50,"extent":[2400,2800],"nice":false},"scale":{"domain":[2400,2800],"nice":false,"zero":false},"axis":{"orient":"top","values":[2400,2500,2600,2700,2800],"tickSize":-6,"labels":false,"title":null}},
"y":{"field":"t","type":"quantitative","bin":{"step":0.002,"extent":[0.899,1.001],"nice":false},"scale":{"domain":[0.9,1.15],"nice":false,"zero":false,"reverse":true},"axis":{"orient":"right","values":[0.9,0.95,1,1.05,1.1,1.15],"tickSize":-6,"labels":false,"title":null}}}},
{"data":{"name":"b1f"},"mark":{"type":"rect","strokeWidth":0.5,"clip":true},"encoding":{
"x":{"field":"x","type":"quantitative","bin":{"step":25,"extent":[2400,2800],"nice":false},"scale":{"domain":[2400,2800],"nice":false,"zero":false},"axis":null},
"y":{"field":"t","type":"quantitative","bin":{"step":0.002,"extent":[0.899,1.001],"nice":false},"scale":{"domain":[0.9,1.15],"nice":false,"zero":false,"reverse":true},"axis":{"orient":"left","values":[0.91,0.92,0.93,0.94,0.96,0.97,0.98,0.99,1.01,1.02,1.03,1.04,1.06,1.07,1.08,1.09,1.11,1.12,1.13,1.14],"tickSize":-3,"labels":false,"title":null}}}},
{"data":{"name":"b2c"},"mark":{"type":"rect","strokeWidth":0.5,"clip":true},"encoding":{
"x":{"field":"x","type":"quantitative","bin":{"step":50,"extent":[2400,2800],"nice":false},"scale":{"domain":[2400,2800],"nice":false,"zero":false},"axis":null},
"y":{"field":"t","type":"quantitative","bin":{"step":0.002,"extent":[1.076,1.15],"nice":false},"scale":{"domain":[0.9,1.15],"nice":false,"zero":false,"reverse":true},"axis":{"orient":"right","values":[0.91,0.92,0.93,0.94,0.96,0.97,0.98,0.99,1.01,1.02,1.03,1.04,1.06,1.07,1.08,1.09,1.11,1.12,1.13,1.14],"tickSize":-3,"labels":false,"title":null}}}},
{"data":{"name":"b2f"},"mark":{"type":"rect","strokeWidth":0.5,"clip":true},"encoding":{
"x":{"field":"x","type":"quantitative","bin":{"step":25,"extent":[2400,2800],"nice":false},"scale":{"domain":[2400,2800],"nice":false,"zero":false},"axis":null},
"y":{"field":"t","type":"quantitative","bin":{"step":0.002,"extent":[1.076,1.15],"nice":false},"scale":{"domain":[0.9,1.15],"nice":false,"zero":false,"reverse":true},"axis":null}}}
],
"resolve":{"axis":{"x":"independent","y":"independent"}}
}
